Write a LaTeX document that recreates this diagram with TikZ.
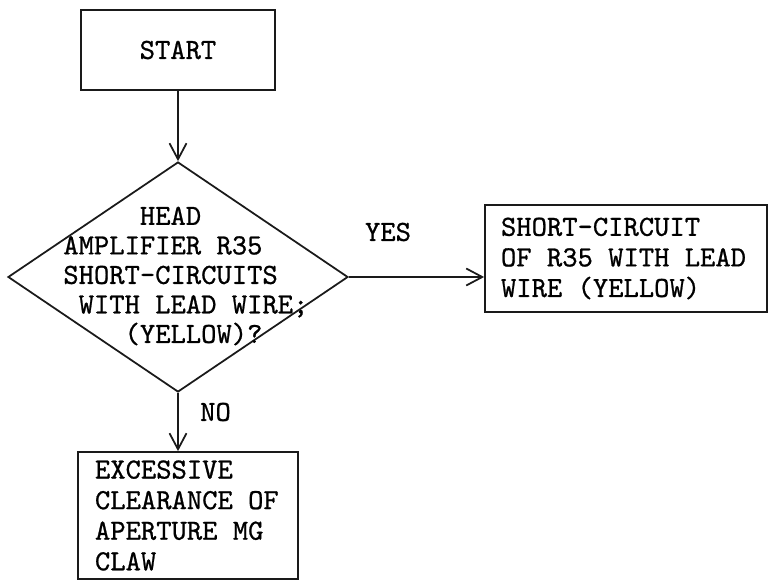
\documentclass[tikz,border=0pt]{standalone}
\usepackage{fontspec}
\usepackage{tikz}
\usepackage{xcolor}
\usetikzlibrary{arrows.meta,positioning,shapes.geometric,calc}
\newfontfamily\typefont{lmmono10-regular.otf}[FakeBold=0.8]
\newcommand{\typewriter}[2]{\typefont\fontsize{#1}{#2}\selectfont}
\definecolor{ink}{HTML}{1A1A1A}
\definecolor{paper}{HTML}{FFFFFF}
\tikzset{
  plainbox/.style={draw=ink,fill=paper,line width=1pt,align=flush left,
                   inner ysep=0pt,font=\typewriter{16.6}{17.4}},
  querydiamond/.style={draw=ink,fill=paper,diamond,line width=1pt,
                       inner sep=0pt,minimum width=6.8cm,minimum height=4.6cm},
  querytext/.style={align=flush left,inner sep=0pt,font=\typewriter{16.6}{16.8}},
  answer/.style={inner sep=0pt,font=\typewriter{16.6}{17}},
  flowarr/.style={-{Straight Barb[length=3.2mm,width=3.4mm]},line width=1pt,
                  draw=ink}
}
\begin{document}
\begin{tikzpicture}[x=1cm,y=1cm]
    \path[use as bounding box,fill=paper] (0,0) rectangle (15.4,11.62);

    \node[plainbox,align=center,minimum width=3.88cm,minimum height=1.6cm]
      (start) at (3.56,10.62) {START};
    \node[querydiamond] (query) at (3.56,6.08) {};
    \node[querytext,anchor=west] (querylines) at (1.26,6.10)
      {\hspace*{2.625em}HEAD\\AMPLIFIER R35\\SHORT-CIRCUITS\\
       \hspace*{0.525em}WITH LEAD WIRE;\\\hspace*{2.1em}(YELLOW)?};
    \node[plainbox,text width=5.0cm,inner xsep=0.32cm,minimum height=2.14cm]
      (shorted) at (12.52,6.45)
      {SHORT-CIRCUIT\\OF R35 WITH LEAD\\WIRE (YELLOW)};
    \node[plainbox,text width=3.72cm,inner xsep=0.34cm,minimum height=2.54cm]
      (clearance) at (3.76,1.31)
      {EXCESSIVE\\CLEARANCE OF\\APERTURE MG\\CLAW};
    \node[answer] (yes) at (7.76,6.98) {YES};
    \node[answer] (no) at (4.31,3.38) {NO};

    \draw[flowarr] (start.south) -- (query.north);
    \draw[flowarr] (query.east) -- (query.east -| shorted.west);
    \draw[flowarr] (query.south) -- (query.south |- clearance.north);
  \end{tikzpicture}
\end{document}
